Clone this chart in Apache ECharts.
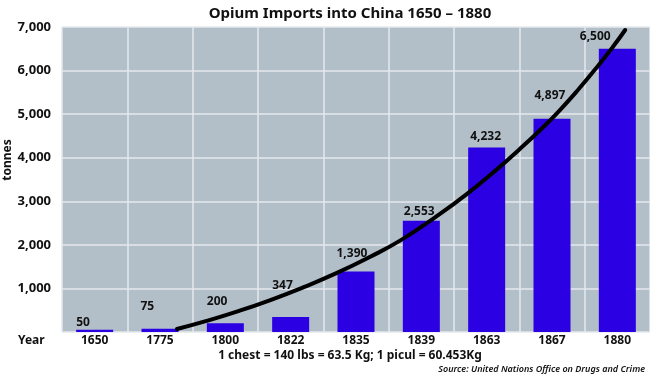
<!DOCTYPE html>
<html>
<head>
<meta charset="utf-8">
<script src="https://cdn.jsdelivr.net/npm/echarts@6/dist/echarts.min.js"></script>
<style>html,body{margin:0;padding:0;background:#fff}#c{width:650px;height:376px}</style>
</head>
<body>
<div id="c"></div>
<script>
// ---- data ----
const years = ['1650','1775','1800','1822','1835','1839','1863','1867','1880'];
const tonnes = [50, 75, 200, 347, 1390, 2553, 4232, 4897, 6500];
const yTicks = [0, 1000, 2000, 3000, 4000, 5000, 6000, 7000];
// trend curve: [category position, tonnes]
const trendX = [1.26, 1.7, 2.2, 2.69, 3.2, 3.7, 4.21, 4.7, 5.2, 5.7, 6.2, 6.5, 6.82, 7.1, 7.4, 7.7, 7.95, 8.12];
const trendY = [69, 250, 480, 734, 1030, 1350, 1721, 2120, 2620, 3170, 3790, 4190, 4636, 5060, 5560, 6100, 6580, 6931];

// ---- label placement (style) ----
const labelGap = [1, 16, 16, 25, 12, 3, 5, 17, 6];
const labelShift = [0, -1, 0, 0, -1, 1, 2, 1, -19];

const FONT = '"Noto Sans", "Open Sans", sans-serif';
const chart = echarts.init(document.getElementById('c'), null, {renderer: 'canvas'});

const barData = tonnes.map((v, i) => ({
  value: v,
  label: { distance: labelGap[i], offset: [-18.5 + labelShift[i], 0] }
}));

chart.setOption({
  animation: false,
  backgroundColor: '#ffffff',
  grid: { left: 62, right: 0, top: 27, bottom: 44, show: true, backgroundColor: '#b3bfc8', borderWidth: 0 },
  xAxis: [{
    type: 'category',
    data: years,
    boundaryGap: true,
    axisLine: { show: false },
    axisTick: { show: false },
    axisLabel: { margin: 3, color: '#111', fontFamily: FONT, fontWeight: 'bold', fontSize: 12 },
    splitLine: { show: true, lineStyle: { color: '#e4e9ed', width: 1.5 } }
  }, {
    type: 'value', min: -0.5, max: 8.5, show: false
  }],
  yAxis: {
    type: 'value',
    min: yTicks[0], max: yTicks[yTicks.length - 1], interval: 1000,
    axisLine: { show: false },
    axisTick: { show: false },
    axisLabel: {
      margin: 11, color: '#111', fontFamily: FONT, fontWeight: 'bold', fontSize: 13,
      padding: [0, 0, 8, 0],
      formatter: v => v === 0 ? '' : v.toLocaleString('en-US')
    },
    splitLine: { show: true, lineStyle: { color: '#e4e9ed', width: 1.5 } }
  },
  series: [{
    type: 'bar',
    data: barData,
    barWidth: 37,
    itemStyle: { color: '#2b00e2' },
    label: {
      show: true, position: 'top', align: 'left',
      color: '#111', fontFamily: FONT, fontWeight: 'bold', fontSize: 12,
      formatter: p => p.value.toLocaleString('en-US')
    },
    z: 2
  }, {
    type: 'line',
    xAxisIndex: 1,
    data: trendX.map((x, i) => [x, trendY[i]]),
    smooth: 0.5,
    symbol: 'none',
    lineStyle: { color: '#000', width: 4, cap: 'round' },
    z: 3
  }],
  graphic: [
    { type: 'text', x: 350, y: 14, style: { text: 'Opium Imports into China 1650 – 1880', font: 'bold 15px ' + FONT, fill: '#111', align: 'center', verticalAlign: 'middle', textAlign: 'center', textVerticalAlign: 'middle' } },
    { type: 'text', x: 18, y: 341, style: { text: 'Year', font: 'bold 12px ' + FONT, fill: '#111', align: 'left', verticalAlign: 'middle', textAlign: 'left', textVerticalAlign: 'middle' } },
    { type: 'text', x: 8, y: 160, rotation: Math.PI / 2, style: { text: 'tonnes', font: 'bold 12px ' + FONT, fill: '#111', align: 'center', verticalAlign: 'middle', textAlign: 'center', textVerticalAlign: 'middle' } },
    { type: 'text', x: 350, y: 356, style: { text: '1 chest = 140 lbs = 63.5 Kg; 1 picul = 60.453Kg', font: 'bold 12px ' + FONT, fill: '#111', align: 'center', verticalAlign: 'middle', textAlign: 'center', textVerticalAlign: 'middle' } },
    { type: 'text', x: 645, y: 369, style: { text: 'Source: United Nations Office on Drugs and Crime', font: 'italic 600 9px ' + FONT, fill: '#111', align: 'right', verticalAlign: 'middle', textAlign: 'right', textVerticalAlign: 'middle' } }
  ]
});
</script>
</body>
</html>
